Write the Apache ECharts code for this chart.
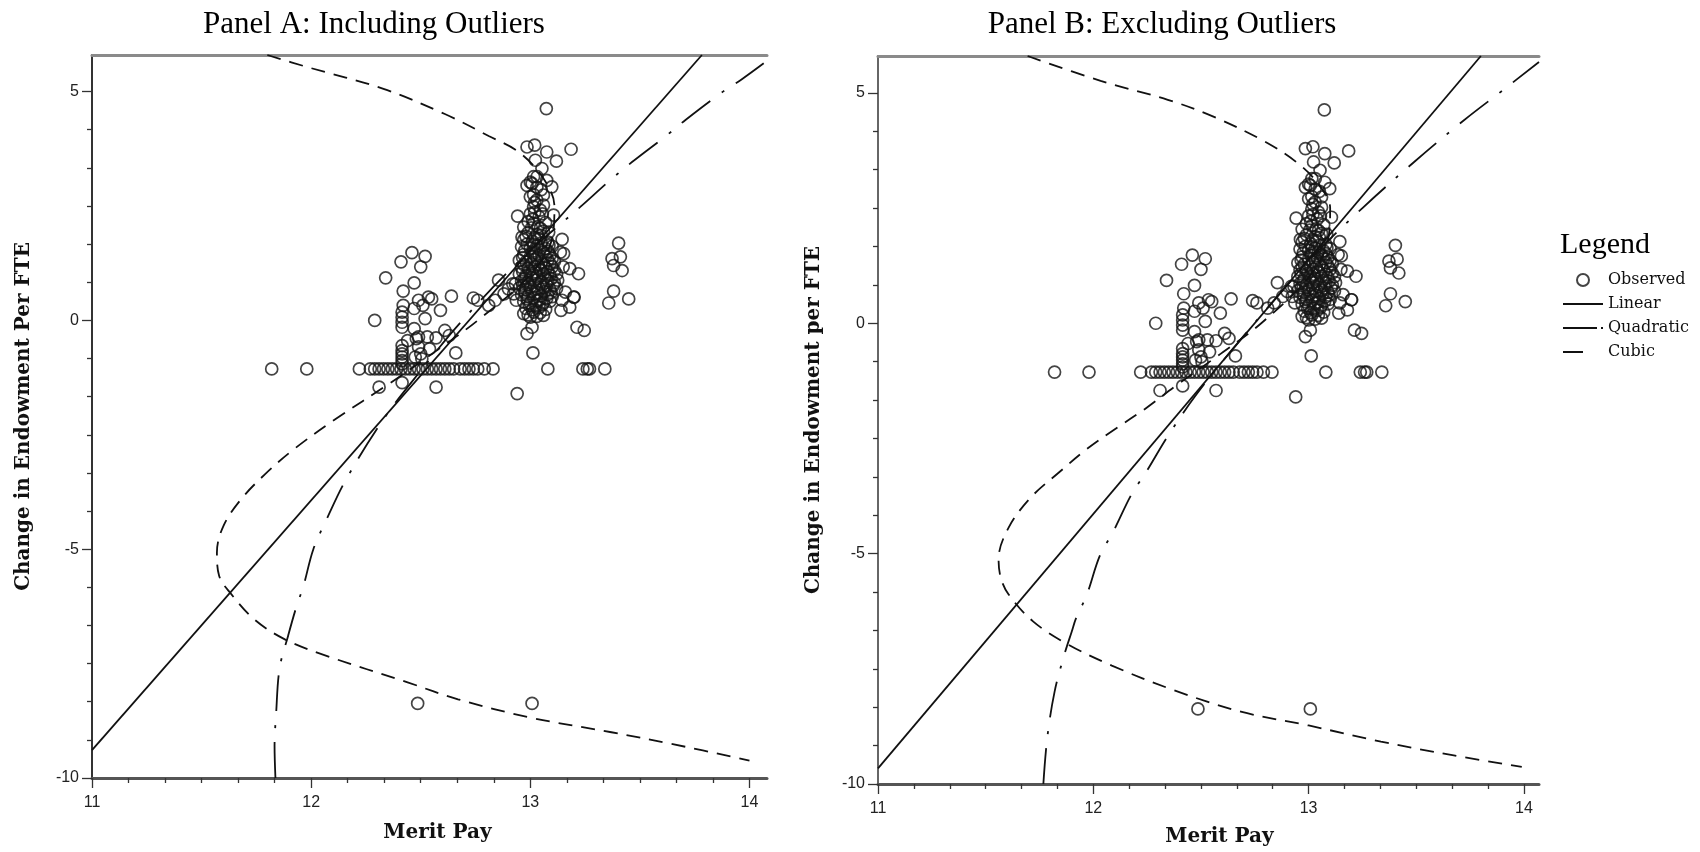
<!DOCTYPE html>
<html><head><meta charset="utf-8">
<script src="https://cdn.jsdelivr.net/npm/echarts@6/dist/echarts.min.js"></script>
<style>html,body{margin:0;padding:0;background:#fff}#c{width:1700px;height:852px}</style>
</head><body><div id="c"></div>
<script>
// ---------- data ----------
const panelTitles = ['Panel A: Including Outliers', 'Panel B: Excluding Outliers'];
const xName = 'Merit Pay';
const yNames = ['Change in Endowment Per FTE', 'Change in Endowment per FTE'];
const xTicks = [11, 12, 13, 14];
const yTicks = [-10, -5, 0, 5];
const legendNames = ['Observed', 'Linear', 'Quadratic', 'Cubic'];

// row of observations at about -1.06
const rowChange = -1.06;
const rowMerit = [11.82, 11.98, 12.22, 12.27, 12.29, 12.31, 12.33, 12.35, 12.37, 12.39, 12.41, 12.43,
  12.45, 12.47, 12.49, 12.51, 12.53, 12.55, 12.57, 12.59, 12.61, 12.63, 12.65, 12.68, 12.70, 12.72,
  12.74, 12.76, 12.79, 12.83, 13.08, 13.24, 13.26, 13.27, 13.34];

// left group around merit 12.3 - 12.9
const leftGroup = [[12.46,1.48],[12.41,1.28],[12.52,1.40],[12.50,1.17],[12.34,0.93],[12.47,0.82],
  [12.42,0.64],[12.64,0.53],[12.55,0.47],[12.49,0.44],[12.42,0.33],[12.51,0.33],[12.47,0.26],
  [12.59,0.22],[12.74,0.49],[12.76,0.44],[12.29,0.00],[12.415,0.18],[12.415,0.07],[12.415,-0.04],
  [12.415,-0.15],[12.52,0.04],[12.47,-0.18],[12.61,-0.22],[12.63,-0.33],[12.44,-0.44],[12.49,-0.36],
  [12.53,-0.36],[12.57,-0.38],[12.49,-0.58],[12.54,-0.62],[12.66,-0.71],[12.415,-0.66],[12.415,-0.73],
  [12.415,-0.80],[12.415,-0.88],[12.50,-0.73],[12.475,-0.80],[12.505,-0.84],[12.31,-1.46],
  [12.415,-1.36],[12.57,-1.46],[12.81,0.33],[12.84,0.44],[12.88,0.58],[12.90,0.69],[12.92,0.80],
  [12.855,0.88],[12.48,-0.40],[12.535,0.51],[12.415,-0.55],[12.415,-0.95]];

// cluster around merit 13 (outer points)
const clusterOuter = [[13.073,4.63],[12.985,3.79],[13.02,3.83],[13.075,3.68],[13.186,3.74],[13.119,3.48],
  [13.023,3.50],[13.053,3.32],[13.015,3.14],[12.985,2.95],[13.008,2.99],[13.031,3.14],[13.075,3.06],
  [13.098,2.92],[13.00,2.70],[13.03,2.63],[13.06,2.74],[13.015,2.48],[13.046,2.41],[13.00,2.33],
  [12.942,2.28],[13.106,2.30],[12.97,2.04],[13.015,2.12],[13.046,2.01],[13.084,1.93],[12.962,1.82],
  [13.145,1.77],[13.137,1.49],[13.152,1.46],[13.18,1.13],[13.22,1.02],[13.15,1.17],[13.125,0.88],
  [13.16,0.62],[13.20,0.51],[13.145,0.44],[13.18,0.29],[13.14,0.22],[12.932,0.80],[12.924,0.58],
  [12.936,0.44],[12.97,0.15],[13.00,0.07],[13.06,0.11],[12.985,-0.29],[13.008,-0.15],[13.012,-0.71],
  [13.213,-0.15],[13.246,-0.22],[12.94,-1.60],[13.403,1.69],[13.373,1.35],[13.411,1.39],[13.38,1.20],
  [13.419,1.09],[13.38,0.64],[13.358,0.38],[13.449,0.47],[13.198,0.51]];

// cluster around merit 13 (dense core)
const clusterCore = [[12.99,1.92],[13.03,1.88],[13.06,1.95],[12.97,1.76],[13.01,1.73],[13.04,1.78],
  [13.08,1.71],[12.96,1.61],[13.00,1.58],[13.03,1.63],[13.07,1.57],[13.10,1.62],[12.97,1.44],
  [13.01,1.47],[13.04,1.42],[13.06,1.49],[13.09,1.43],[12.95,1.31],[12.98,1.28],[13.02,1.33],
  [13.05,1.27],[13.08,1.32],[13.11,1.29],[12.96,1.16],[12.99,1.13],[13.02,1.18],[13.04,1.12],
  [13.07,1.15],[13.10,1.17],[12.95,1.01],[12.98,0.98],[13.01,1.03],[13.03,0.97],[13.06,1.02],
  [13.09,0.99],[13.12,1.01],[12.96,0.86],[12.99,0.83],[13.02,0.88],[13.05,0.84],[13.08,0.87],
  [13.11,0.82],[12.95,0.71],[12.98,0.68],[13.00,0.73],[13.03,0.69],[13.06,0.72],[13.09,0.67],
  [13.12,0.70],[12.96,0.56],[12.99,0.53],[13.02,0.58],[13.05,0.54],[13.08,0.57],[13.10,0.52],
  [12.97,0.41],[13.00,0.38],[13.03,0.43],[13.06,0.39],[13.09,0.42],[12.98,0.26],[13.01,0.23],
  [13.04,0.28],[13.07,0.24],[12.99,0.12],[13.03,0.09],[13.01,2.21],[13.04,2.26],[13.02,2.58],
  [13.05,2.86],[13.00,3.02],[13.03,2.91],[13.06,2.52],[13.02,2.36],[12.99,2.16],[13.07,2.14],
  [12.98,1.84],[13.02,1.81],[13.05,1.86],[12.985,1.67],[13.015,1.66],[13.05,1.69],[13.085,1.64],
  [12.975,1.53],[13.015,1.52],[13.045,1.55],[13.08,1.51],[12.965,1.37],[13.00,1.39],[13.03,1.36],
  [13.07,1.40],[13.10,1.36],[12.97,1.22],[13.005,1.24],[13.035,1.21],[13.06,1.23],[13.09,1.24],
  [12.965,1.07],[12.995,1.08],[13.025,1.06],[13.05,1.09],[13.08,1.06],[13.11,1.09],[12.975,0.92],
  [13.005,0.94],[13.035,0.91],[13.065,0.93],[13.095,0.91],[12.965,0.77],[12.99,0.78],[13.02,0.76],
  [13.045,0.79],[13.075,0.77],[13.105,0.76],[12.975,0.62],[13.005,0.64],[13.035,0.61],[13.065,0.63],
  [13.095,0.61],[12.985,0.47],[13.015,0.49],[13.045,0.46],[13.075,0.48],[12.995,0.33],[13.025,0.32],
  [13.055,0.34],[13.015,0.18],[13.045,0.17],[13.035,2.05],[13.005,2.02],[13.055,2.33],[13.015,2.75]];

// two low observations
const lowPoints = [[12.486,-8.37],[13.008,-8.37]];

// fitted curves, panel A
const linearA = [[11,-9.39],[13.783,5.80]];
const quadA = [[11.837,-10],[11.833,-9.3],[11.84,-8.6],[11.856,-7.6],[11.895,-6.89],[11.93,-6.3],
  [11.965,-5.8],[12.01,-5.0],[12.07,-4.35],[12.16,-3.47],[12.33,-2.16],[12.50,-1.10],[12.69,0.0],
  [12.96,1.35],[13.228,2.48],[13.373,3.10],[13.464,3.46],[13.624,4.05],[13.708,4.38],[13.868,4.96],
  [13.959,5.25],[14.065,5.62]];
const cubicA = [[11.80,5.80],[11.98,5.54],[12.33,5.06],[12.61,4.51],[12.81,4.03],[12.95,3.67],
  [13.06,3.10],[13.11,2.50],[13.10,1.80],[13.00,1.00],[12.76,0.00],[12.56,-0.70],[12.36,-1.37],
  [12.11,-2.16],[11.92,-2.82],[11.79,-3.36],[11.68,-3.91],[11.60,-4.49],[11.57,-5.07],[11.58,-5.58],
  [11.63,-5.95],[11.74,-6.53],[11.88,-6.97],[12.07,-7.33],[12.44,-7.91],[12.67,-8.28],[13.00,-8.68],
  [13.37,-9.00],[13.65,-9.26],[14.00,-9.62]];

// fitted curves, panel B
const linearB = [[11,-9.66],[13.80,5.80]];
const quadB = [[11.768,-10],[11.786,-9.0],[11.82,-8.0],[11.865,-7.2],[11.90,-6.69],[11.92,-6.40],
  [11.97,-5.89],[12.03,-5.05],[12.094,-4.51],[12.178,-3.71],[12.248,-3.21],[12.342,-2.48],
  [12.47,-1.6],[12.64,-0.6],[12.84,0.5],[13.03,1.5],[13.25,2.5],[13.49,3.5],[13.72,4.4],
  [13.90,5.05],[14.07,5.67]];
const cubicB = [[11.695,5.80],[12.034,5.26],[12.346,4.85],[12.555,4.49],[12.79,3.96],[12.945,3.49],
  [13.04,3.05],[13.10,2.5],[13.09,1.8],[13.00,1.0],[12.78,0.0],[12.58,-0.70],[12.38,-1.37],
  [12.24,-1.86],[12.10,-2.30],[11.97,-2.73],[11.84,-3.24],[11.71,-3.78],[11.606,-4.44],
  [11.56,-5.12],[11.57,-5.52],[11.606,-5.88],[11.72,-6.47],[11.878,-6.96],[12.086,-7.43],
  [12.372,-7.96],[12.685,-8.43],[13.0,-8.73],[13.336,-9.08],[13.674,-9.38],[13.99,-9.63]];

// ---------- chart ----------
const observed = rowMerit.map(m => [m, rowChange])
  .concat(leftGroup, clusterOuter, clusterCore, lowPoints);

const grids = [
  {left: 92, top: 55, width: 675, height: 723},
  {left: 878, top: 56, width: 661, height: 729}
];
const xMax = [14.08, 14.07];
const yMin = -10, yMax = 5.8;
const tickFont = {fontFamily: 'Liberation Sans', fontSize: 16, color: '#222'};
const nameFont = {fontFamily: 'DejaVu Serif', fontWeight: 'bold', fontSize: 20, color: '#111'};

const xAxes = [], yAxes = [];
[0, 1].forEach(i => {
  xAxes.push({
    type: 'value', gridIndex: i, min: 11, max: xMax[i], interval: 1, position: 'bottom',
    name: xName, nameLocation: 'middle', nameGap: i === 0 ? 45 : 43,
    nameTextStyle: Object.assign({padding: [0, 0, 0, i === 0 ? 16 : 22]}, nameFont),
    axisLine: {show: true, onZero: false, lineStyle: {color: '#555', width: 3}},
    axisTick: {show: true, length: 10, lineStyle: {color: '#333', width: 1.3}, customValues: xTicks},
    minorTick: {show: true, splitNumber: 6, length: 5, lineStyle: {color: '#333', width: 1.3}},
    axisLabel: Object.assign({margin: 17, customValues: xTicks}, tickFont),
    splitLine: {show: false}
  });
  yAxes.push({
    type: 'value', gridIndex: i, min: yMin, max: yMax, interval: 5,
    name: yNames[i], nameLocation: 'middle', nameGap: i === 0 ? 58 : 54,
    nameTextStyle: nameFont,
    axisLine: {show: true, onZero: false, lineStyle: {color: i === 0 ? '#333' : '#666', width: 2}},
    axisTick: {show: true, length: 10, lineStyle: {color: '#333', width: 1.3}, customValues: yTicks},
    minorTick: {show: true, splitNumber: 6, length: 5, lineStyle: {color: '#333', width: 1.3}},
    axisLabel: Object.assign({margin: 13, customValues: yTicks}, tickFont),
    splitLine: {show: false}
  });
});
// top border of each panel
[0, 1].forEach(i => {
  xAxes.push({
    type: 'value', gridIndex: i, min: 11, max: xMax[i], position: 'top',
    axisLine: {show: true, onZero: false, lineStyle: {color: '#8a8a8a', width: 3}},
    axisTick: {show: false}, axisLabel: {show: false}, splitLine: {show: false}
  });
});

function panelSeries(i, lin, quad, cub) {
  const lineBase = {type: 'line', xAxisIndex: i, yAxisIndex: i, showSymbol: false, symbol: 'none',
    smooth: 0.35, z: 3, animation: false, clip: true};
  return [
    {name: 'Observed', type: 'scatter', xAxisIndex: i, yAxisIndex: i, data: observed,
     symbol: 'circle', symbolSize: 12, z: 2, animation: false,
     itemStyle: {color: 'rgba(0,0,0,0)', borderColor: '#151515', borderWidth: 1.7}},
    Object.assign({}, lineBase, {name: 'Linear', data: lin, smooth: false,
     lineStyle: {color: '#111', width: 1.8, type: 'solid'}, itemStyle: {color: '#111'}}),
    Object.assign({}, lineBase, {name: 'Quadratic', data: quad,
     lineStyle: {color: '#111', width: 1.8, type: [36, 14, 3, 14]}, itemStyle: {color: '#111'}}),
    Object.assign({}, lineBase, {name: 'Cubic', data: cub,
     lineStyle: {color: '#111', width: 1.8, type: [14, 9]}, itemStyle: {color: '#111'}})
  ];
}

const hiddenMark = {opacity: 0};
const chart = echarts.init(document.getElementById('c'), null, {renderer: 'canvas'});
chart.setOption({
  backgroundColor: '#fff',
  animation: false,
  title: [
    {text: panelTitles[0], left: 369, top: 4, textAlign: 'center',
     textStyle: {fontFamily: 'Liberation Serif', fontWeight: 'normal', fontSize: 31, color: '#000'}},
    {text: panelTitles[1], left: 1157, top: 4, textAlign: 'center',
     textStyle: {fontFamily: 'Liberation Serif', fontWeight: 'normal', fontSize: 31, color: '#000'}},
    {text: 'Legend', left: 1555, top: 225,
     textStyle: {fontFamily: 'Liberation Serif', fontWeight: 'normal', fontSize: 30, color: '#000'}}
  ],
  legend: {
    data: [
      {name: legendNames[0]},
      {name: legendNames[1], itemStyle: hiddenMark, lineStyle: {type: 'solid', width: 2}},
      {name: legendNames[2], itemStyle: hiddenMark, lineStyle: {type: [34, 4, 2, 100], width: 2}},
      {name: legendNames[3], itemStyle: hiddenMark, lineStyle: {type: [20, 100], width: 2}}
    ],
    orient: 'vertical', left: 1562, top: 270,
    itemWidth: 40, itemHeight: 12, itemGap: 4, padding: 0,
    textStyle: {fontFamily: 'DejaVu Serif', fontSize: 16, color: '#111', lineHeight: 20},
    selectedMode: false
  },
  grid: grids,
  xAxis: xAxes,
  yAxis: yAxes,
  series: panelSeries(0, linearA, quadA, cubicA).concat(panelSeries(1, linearB, quadB, cubicB))
});
</script></body></html>
